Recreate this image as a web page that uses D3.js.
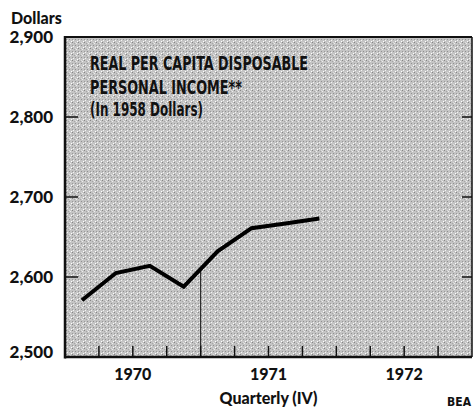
<!DOCTYPE html>
<html>
<head>
<meta charset="utf-8">
<script src="https://cdn.jsdelivr.net/npm/d3@7"></script>
<style>
  body { margin: 0; background: #fff; }
  svg { display: block; }
  .lbl { font-family: Lato, "DejaVu Sans", sans-serif; font-weight: 900; fill: #111; }
  .cond { font-family: "Liberation Sans Narrow", "DejaVu Sans Condensed", sans-serif; font-weight: bold; fill: #111; }
</style>
</head>
<body>
<svg width="474" height="410"></svg>
<script>
// quarterly values, 1970 I through 1971 IV
var quarters = ["1970 I", "1970 II", "1970 III", "1970 IV", "1971 I", "1971 II", "1971 III", "1971 IV"];
var income = [2571, 2605, 2614, 2588, 2632, 2661, 2667, 2673];
var years = [1970, 1971, 1972];
var yTicks = [2500, 2600, 2700, 2800, 2900];
var titleLines = ["REAL PER CAPITA DISPOSABLE", "PERSONAL INCOME**", "(In 1958 Dollars)"];

var svg = d3.select("svg"),
    width = +svg.attr("width"),
    height = +svg.attr("height");

var x = d3.scaleLinear().domain([1970, 1973]).range([65, 472]);
var y = d3.scaleLinear().domain([2500, 2900]).range([357, 37]);

// quarter index -> decimal year at middle of quarter
function qx(i) { return 1970 + (i + 0.5) / 4; }

// stipple texture for the plot area
var defs = svg.append("defs");
var pat = defs.append("pattern")
    .attr("id", "stipple")
    .attr("width", 6).attr("height", 6)
    .attr("patternUnits", "userSpaceOnUse");
pat.append("rect").attr("width", 6).attr("height", 6).attr("fill", "#c4c4c4");
[[0, 0, "#858585"], [3, 3, "#909090"], [1, 4, "#f4f4f4"], [4, 1, "#eeeeee"], [2, 1, "#a6a6a6"],
 [5, 5, "#ffffff"], [0, 3, "#9a9a9a"], [3, 0, "#dddddd"]].forEach(function(p) {
  pat.append("rect").attr("x", p[0]).attr("y", p[1]).attr("width", 1).attr("height", 1).attr("fill", p[2]);
});

svg.append("rect")
    .attr("x", x(1970)).attr("y", y(2900))
    .attr("width", x(1973) - x(1970))
    .attr("height", y(2500) - y(2900))
    .attr("fill", "url(#stipple)");

// frame
svg.append("line").attr("x1", x(1970)).attr("x2", x(1973)).attr("y1", y(2900)).attr("y2", y(2900))
    .attr("stroke", "#111").attr("stroke-width", 2);
svg.append("line").attr("x1", x(1973)).attr("x2", x(1973)).attr("y1", y(2900)).attr("y2", y(2500))
    .attr("stroke", "#111").attr("stroke-width", 1.5);
svg.append("line").attr("x1", x(1970)).attr("x2", x(1970)).attr("y1", y(2900) - 1).attr("y2", y(2500) + 1.5)
    .attr("stroke", "#111").attr("stroke-width", 2.5);
svg.append("line").attr("x1", x(1970)).attr("x2", x(1973)).attr("y1", y(2500)).attr("y2", y(2500))
    .attr("stroke", "#111").attr("stroke-width", 2.5);

// y ticks on both sides
var yInner = yTicks.filter(function(d) { return d > 2500 && d < 2900; });
svg.append("g").selectAll("line")
    .data(yInner)
    .enter().append("line")
    .attr("x1", x(1970)).attr("x2", x(1970) + 13)
    .attr("y1", function(d) { return y(d); }).attr("y2", function(d) { return y(d); })
    .attr("stroke", "#111").attr("stroke-width", 1.5);
svg.append("g").selectAll("line")
    .data(yInner)
    .enter().append("line")
    .attr("x1", x(1973) - 10).attr("x2", x(1973))
    .attr("y1", function(d) { return y(d); }).attr("y2", function(d) { return y(d); })
    .attr("stroke", "#111").attr("stroke-width", 1.5);

svg.append("g").selectAll("text")
    .data(yTicks)
    .enter().append("text")
    .attr("class", "lbl")
    .attr("x", 53)
    .attr("y", function(d) { return y(d) + (d == 2500 ? 1 : 6); })
    .attr("text-anchor", "end")
    .attr("font-size", 17)
    .text(function(d) { return d3.format(",")(d); });

svg.append("text").attr("class", "lbl")
    .attr("x", 11).attr("y", 24)
    .attr("font-size", 16)
    .text("Dollars");

// x quarter ticks pointing up from the axis
var qTicks = d3.range(1, 12).map(function(i) { return 1970 + i / 4; });
svg.append("g").selectAll("line")
    .data(qTicks)
    .enter().append("line")
    .attr("x1", function(d) { return x(d); }).attr("x2", function(d) { return x(d); })
    .attr("y1", y(2500)).attr("y2", y(2500) - 11)
    .attr("stroke", "#111").attr("stroke-width", 1.5);

svg.append("g").selectAll("text")
    .data(years)
    .enter().append("text")
    .attr("class", "lbl")
    .attr("x", function(d) { return x(d + 0.5); })
    .attr("y", 380)
    .attr("text-anchor", "middle")
    .attr("font-size", 16)
    .text(function(d) { return d; });

svg.append("text").attr("class", "lbl")
    .attr("x", x(1971.5)).attr("y", 404)
    .attr("text-anchor", "middle")
    .attr("font-size", 16)
    .text("Quarterly (IV)");

svg.append("text").attr("class", "cond")
    .attr("x", 471).attr("y", 406)
    .attr("text-anchor", "end")
    .attr("font-size", 12)
    .text("BEA");

// title block
var titleW = [218, 152, 113];
svg.append("g").selectAll("text")
    .data(titleLines)
    .enter().append("text")
    .attr("class", "cond")
    .attr("x", 90)
    .attr("y", function(d, i) { return [70, 94, 116][i]; })
    .attr("font-size", 19.5)
    .attr("textLength", function(d, i) { return titleW[i]; })
    .attr("lengthAdjust", "spacingAndGlyphs")
    .text(function(d) { return d; });

// thin marker line at the 1970/1971 boundary, from the data line to the axis
var yAt = income[3] + (income[4] - income[3]) * ((1971 - qx(3)) / (qx(4) - qx(3)));
svg.append("line")
    .attr("x1", x(1971)).attr("x2", x(1971))
    .attr("y1", y(yAt)).attr("y2", y(2500))
    .attr("stroke", "#111").attr("stroke-width", 1);

var line = d3.line()
    .x(function(d, i) { return x(qx(i)); })
    .y(function(d) { return y(d); });

svg.append("path")
    .datum(income)
    .attr("d", line)
    .attr("fill", "none")
    .attr("stroke", "#000")
    .attr("stroke-width", 4)
    .attr("stroke-linejoin", "miter");
</script>
</body>
</html>
